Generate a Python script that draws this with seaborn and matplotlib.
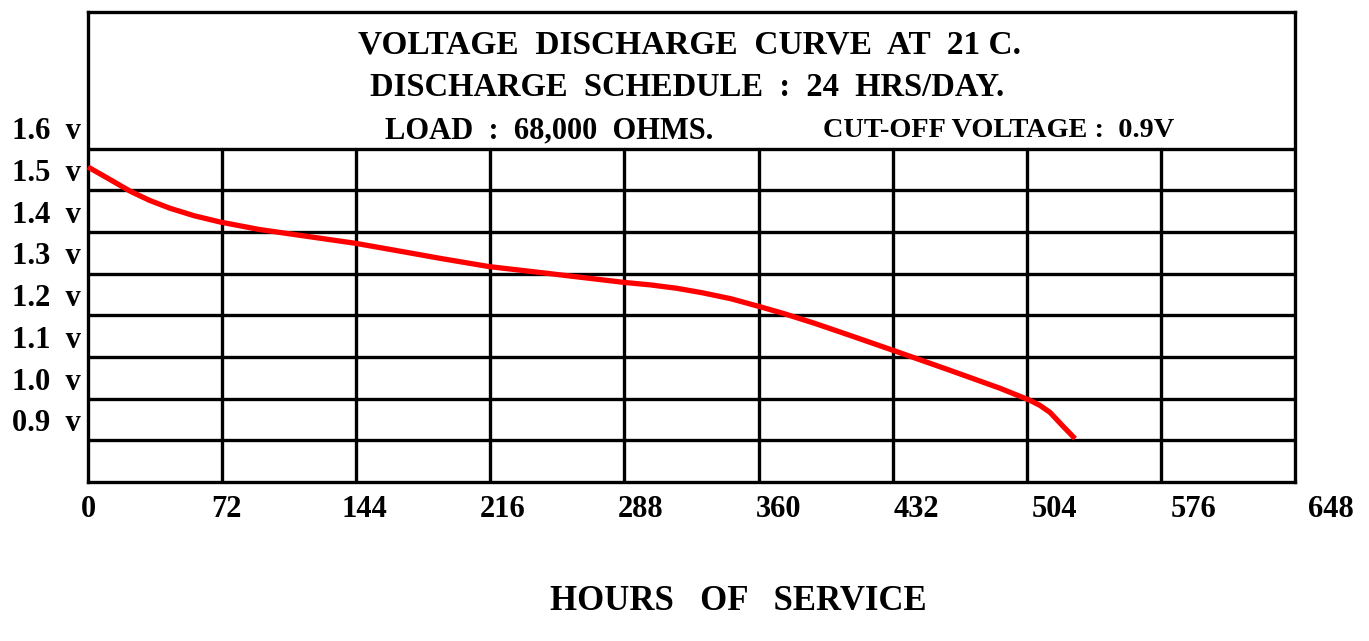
import numpy as np
import pandas as pd
import matplotlib.pyplot as plt
import seaborn as sns

# Discharge curve (hours, volts)
hours = [0, 11, 22.6, 33, 44, 57, 70.9, 92, 113.8, 143.4, 167.5, 190, 215.3, 250, 287.8,
         302, 316, 330, 345, 359.7, 373, 390, 409, 432.2, 462.8, 489.6, 505.7, 511, 516.5,
         523, 529.9]
volts = [1.516, 1.488, 1.458, 1.436, 1.417, 1.399, 1.384, 1.366, 1.352, 1.333, 1.314, 1.296,
         1.277, 1.259, 1.239, 1.233, 1.225, 1.214, 1.200, 1.182, 1.165, 1.141, 1.112, 1.076,
         1.028, 0.985, 0.956, 0.944, 0.927, 0.896, 0.864]

x_ticks = [0, 72, 144, 216, 288, 360, 432, 504, 576, 648]
y_labels = ['1.6', '1.5', '1.4', '1.3', '1.2', '1.1', '1.0', '0.9']
y_values = [1.6, 1.5, 1.4, 1.3, 1.2, 1.1, 1.0, 0.9]
grid_y = [1.56, 1.46, 1.36, 1.26, 1.16, 1.06, 0.96, 0.86]

title_lines = ['VOLTAGE  DISCHARGE  CURVE  AT  21 C.',
               'DISCHARGE  SCHEDULE  :  24  HRS/DAY.',
               'LOAD  :  68,000  OHMS.']
cutoff_text = 'CUT-OFF VOLTAGE :  0.9V'

sns.set_style('white')
plt.rcParams['font.family'] = ['Liberation Serif', 'DejaVu Serif']
plt.rcParams['font.weight'] = 'bold'
plt.rcParams['text.color'] = 'black'

df = pd.DataFrame({'Hours': hours, 'Volts': volts})

fig = plt.figure(figsize=(13.69, 6.41), dpi=100)
ax = fig.add_axes([88 / 1369, 159 / 641, 1207 / 1369, 470 / 641])

ymin, ymax = 0.76, 1.888
ax.set_xlim(0, 648)
ax.set_ylim(ymin, ymax)

# grid
for gy in grid_y:
    ax.axhline(gy, color='black', lw=2.4, zorder=1)
for xt in x_ticks[1:-1]:
    ax.plot([xt, xt], [ymin, grid_y[0]], color='black', lw=2.4, zorder=1)

sns.lineplot(data=df, x='Hours', y='Volts', color='red', lw=3.8, ax=ax, zorder=3,
             solid_capstyle='butt', solid_joinstyle='round', clip_on=False)

for s in ax.spines.values():
    s.set_linewidth(2.4)
    s.set_color('black')

ax.set_xticks([])
ax.set_yticks([])
ax.set_xlabel('')
ax.set_ylabel('')

# y labels
for lab, v in zip(y_labels, y_values):
    ax.annotate(lab + '  v', xy=(0, v), xycoords=('axes fraction', 'data'),
                xytext=(-5, 0), textcoords='offset points',
                ha='right', va='center', fontsize=22, fontweight='bold', color='black')

# x labels (spaced slightly wider than the grid, as in the original)
for xt in x_ticks:
    ax.text(xt * 1.03, ymin - 0.032, str(xt), ha='center', va='top', fontsize=22,
            fontweight='bold', color='black', clip_on=False)

ax.text(0.539, -0.255, 'HOURS   OF   SERVICE', transform=ax.transAxes,
        ha='center', va='center', fontsize=25, fontweight='bold', color='black')

# title block inside the frame
ax.text(0.2237, 0.930, title_lines[0], transform=ax.transAxes, ha='left', va='center',
        fontsize=24, fontweight='bold', color='black')
ax.text(0.2336, 0.840, title_lines[1], transform=ax.transAxes, ha='left', va='center',
        fontsize=23.5, fontweight='bold', color='black')
ax.text(0.246, 0.747, title_lines[2], transform=ax.transAxes, ha='left', va='center',
        fontsize=22, fontweight='bold', color='black')
ax.text(0.609, 0.747, cutoff_text, transform=ax.transAxes, ha='left', va='center',
        fontsize=20.3, fontweight='bold', color='black')

fig.savefig('out.png', dpi=100)
